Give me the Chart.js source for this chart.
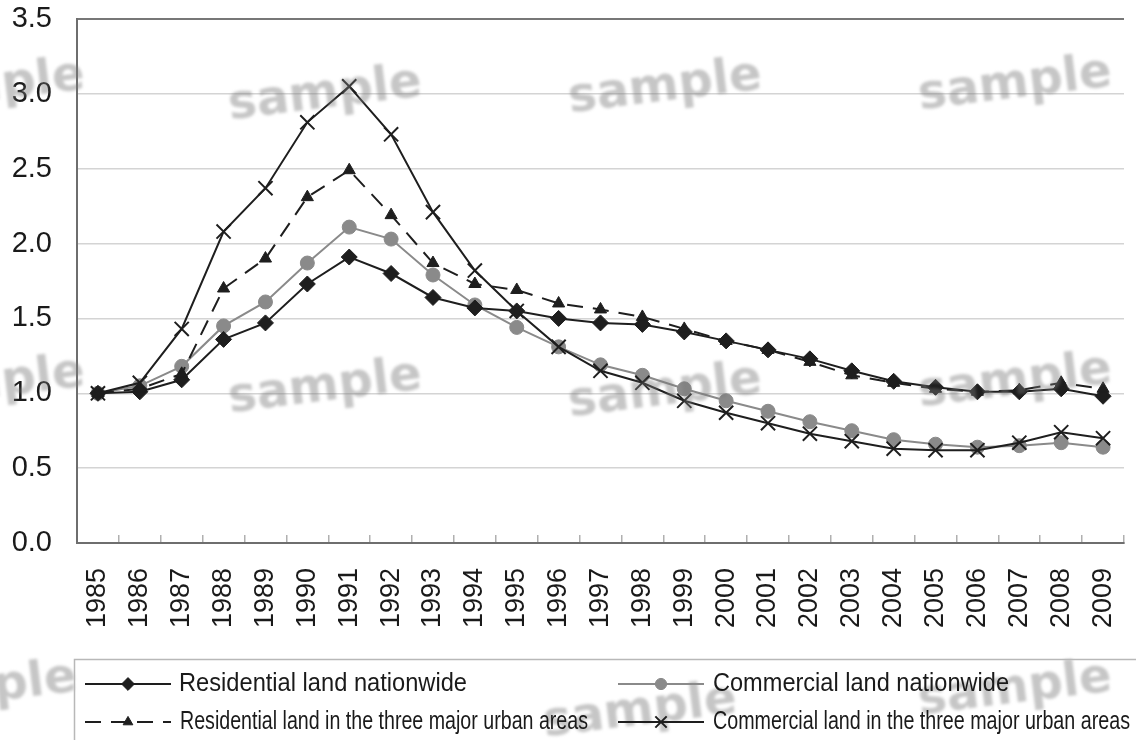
<!DOCTYPE html>
<html><head><meta charset="utf-8">
<script src="https://cdn.jsdelivr.net/npm/chart.js@4.4.0/dist/chart.umd.min.js"></script>
<style>html,body{margin:0;padding:0;background:#fff;}#wrap{width:1136px;height:740px;}</style>
</head><body><div id="wrap"><canvas id="c" width="1136" height="740"></canvas></div>
<script>
const years = ['1985','1986','1987','1988','1989','1990','1991','1992','1993','1994','1995','1996','1997','1998','1999','2000','2001','2002','2003','2004','2005','2006','2007','2008','2009'];
const resNationwide = [1.00,1.01,1.09,1.36,1.47,1.73,1.91,1.80,1.64,1.57,1.55,1.50,1.47,1.46,1.41,1.35,1.29,1.23,1.15,1.08,1.04,1.01,1.01,1.03,0.98];
const comNationwide = [1.00,1.05,1.18,1.45,1.61,1.87,2.11,2.03,1.79,1.59,1.44,1.31,1.19,1.12,1.03,0.95,0.88,0.81,0.75,0.69,0.66,0.64,0.65,0.67,0.64];
const resThreeMajor = [1.00,1.03,1.13,1.70,1.90,2.31,2.49,2.19,1.87,1.73,1.69,1.60,1.56,1.51,1.43,1.35,1.29,1.21,1.12,1.07,1.03,1.01,1.02,1.07,1.03];
const comThreeMajor = [1.00,1.07,1.43,2.08,2.37,2.81,3.05,2.73,2.21,1.82,1.55,1.31,1.15,1.07,0.95,0.87,0.80,0.73,0.68,0.63,0.62,0.62,0.67,0.74,0.70];
const seriesNames = ['Residential land nationwide','Commercial land nationwide','Residential land in the three major urban areas','Commercial land in the three major urban areas'];
const yTicks = [0,0.5,1.0,1.5,2.0,2.5,3.0,3.5];
const watermark = 'sample';

const DARK = '#1e1e1e', GRAY = '#8a8a8a';
const FONT = "'Liberation Sans',Arial,sans-serif";

const legendPlugin = {
  id: 'customLegend',
  afterDraw(chart) {
    const ctx = chart.ctx;
    ctx.save();
    ctx.strokeStyle = '#b8b8b8'; ctx.lineWidth = 1.5;
    ctx.beginPath(); ctx.moveTo(74.5, 745); ctx.lineTo(74.5, 659.5); ctx.lineTo(1140, 659.5); ctx.stroke();
    const items = [
      {ds: 0, x: 85, y: 684, tx: 179, tw: 288},
      {ds: 1, x: 618, y: 684, tx: 713, tw: 296},
      {ds: 2, x: 85, y: 722, tx: 180, tw: 408},
      {ds: 3, x: 618, y: 722, tx: 713, tw: 417}
    ];
    items.forEach(it => {
      const d = chart.data.datasets[it.ds];
      ctx.strokeStyle = d.borderColor; ctx.lineWidth = 2;
      ctx.setLineDash(d.borderDash || []);
      ctx.beginPath(); ctx.moveTo(it.x, it.y); ctx.lineTo(it.x + 86, it.y); ctx.stroke();
      ctx.setLineDash([]);
      ctx.fillStyle = d.pointBackgroundColor; ctx.strokeStyle = d.pointBorderColor;
      ctx.lineWidth = d.pointBorderWidth;
      Chart.helpers.drawPoint(ctx, {pointStyle: d.pointStyle, radius: d.pointRadius * 0.8, rotation: 0, borderWidth: d.pointBorderWidth}, it.x + 43, it.y);
      ctx.save();
      ctx.font = "26px " + FONT;
      const w = ctx.measureText(d.label).width;
      ctx.translate(it.tx, it.y); ctx.scale(it.tw / w, 1);
      ctx.fillStyle = '#1a1a1a';
      ctx.textBaseline = 'middle'; ctx.textAlign = 'left';
      ctx.fillText(d.label, 0, 0);
      ctx.restore();
    });
    ctx.restore();
  }
};

const watermarkPlugin = {
  id: 'wm',
  afterDraw(chart) {
    const ctx = chart.ctx;
    const spots = [[-12,88],[325,95],[665,88],[1015,85],[-12,385],[325,388],[665,392],[1015,382],[-20,690],[640,712],[1015,690]];
    ctx.save();
    ctx.filter = 'blur(1.5px)';
    ctx.fillStyle = 'rgba(120,120,120,0.42)';
    ctx.font = "bold 48px 'DejaVu Sans',sans-serif";
    ctx.textAlign = 'center'; ctx.textBaseline = 'middle';
    spots.forEach(([x,y]) => {
      ctx.save(); ctx.translate(x,y); ctx.rotate(-7*Math.PI/180);
      ctx.fillText(watermark, 0, 0); ctx.restore();
    });
    ctx.restore();
  }
};

new Chart(document.getElementById('c'), {
  type: 'line',
  data: {
    labels: years,
    datasets: [
      {label: seriesNames[0], data: resNationwide, borderColor: DARK, borderWidth: 2, pointStyle: 'rectRot', pointRadius: 8, pointBackgroundColor: DARK, pointBorderColor: DARK, pointBorderWidth: 1, tension: 0, order: 2},
      {label: seriesNames[1], data: comNationwide, borderColor: GRAY, borderWidth: 2, pointStyle: 'circle', pointRadius: 7, pointBackgroundColor: GRAY, pointBorderColor: GRAY, pointBorderWidth: 1, tension: 0, order: 3},
      {label: seriesNames[2], data: resThreeMajor, borderColor: DARK, borderWidth: 2, borderDash: [16, 10], pointStyle: 'triangle', pointRadius: 7, pointBackgroundColor: DARK, pointBorderColor: DARK, pointBorderWidth: 1, tension: 0, order: 1},
      {label: seriesNames[3], data: comThreeMajor, borderColor: DARK, borderWidth: 2, pointStyle: 'crossRot', pointRadius: 10, pointBackgroundColor: DARK, pointBorderColor: DARK, pointBorderWidth: 2, tension: 0, order: 0}
    ]
  },
  options: {
    responsive: false,
    animation: false,
    devicePixelRatio: 1,
    layout: {padding: {top: 19, right: 0, bottom: 100, left: 0}},
    plugins: {legend: {display: false}, tooltip: {enabled: false}},
    scales: {
      x: {
        offset: true,
        grid: {drawOnChartArea: false, offset: true, tickLength: -8, color: '#b0b0b0', lineWidth: 1.5},
        border: {color: '#6e6e6e', width: 2},
        ticks: {autoSkip: false, maxRotation: 90, minRotation: 90, padding: 33, color: '#1a1a1a', font: {family: FONT, size: 27}},
        afterFit(s) { s.height = 97; s.paddingLeft = 0; s.paddingRight = 0; s.paddingTop = 0; s.paddingBottom = 0; }
      },
      y: {
        min: 0, max: 3.5,
        afterBuildTicks(s) { s.ticks = yTicks.map(v => ({value: v})); },
        grid: {drawTicks: false, color: c => (c.tick && c.tick.value === 3.5) ? '#777' : '#d4d4d4', lineWidth: c => (c.tick && c.tick.value === 3.5) ? 2 : 1.5},
        border: {color: '#6e6e6e', width: 2},
        ticks: {padding: 25, color: '#1a1a1a', font: {family: FONT, size: 29}, callback: v => Number(v).toFixed(1)},
        afterFit(s) { s.width = 77; s.paddingLeft = 0; s.paddingRight = 0; s.paddingTop = 0; s.paddingBottom = 0; }
      }
    }
  },
  plugins: [watermarkPlugin, legendPlugin]
});
</script></body></html>
